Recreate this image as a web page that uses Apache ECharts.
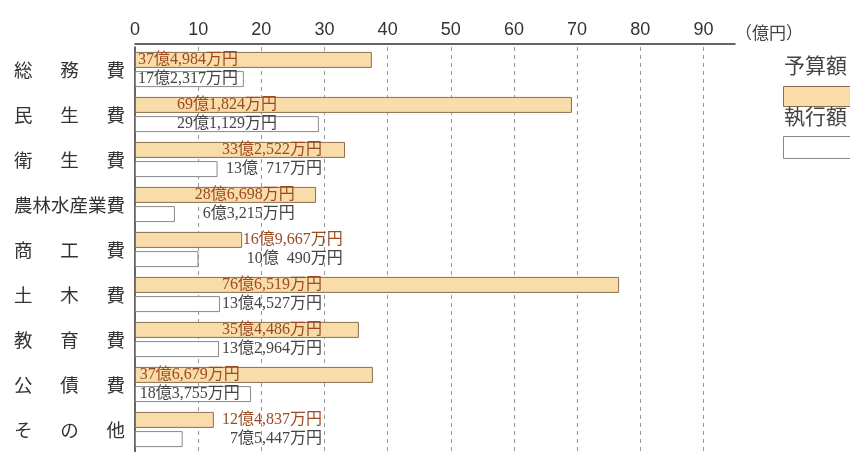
<!DOCTYPE html>
<html>
<head>
<meta charset="utf-8">
<script src="https://cdn.jsdelivr.net/npm/echarts@6/dist/echarts.min.js"></script>
<style>
  html, body { margin: 0; padding: 0; background: #fff; }
  #chart { width: 850px; height: 452px; }
</style>
</head>
<body>
<div id="chart"></div>
<script>
// 費目
const categories = ["総務費", "民生費", "衛生費", "農林水産業費", "商工費", "土木費", "教育費", "公債費", "その他"];
// 予算額（億円）
const budget = [37.4984, 69.1824, 33.2522, 28.6698, 16.9667, 76.6519, 35.4486, 37.6679, 12.4837];
// 執行額（億円）
const executed = [17.2317, 29.1129, 13.0717, 6.3215, 10.049, 13.4527, 13.2964, 18.3755, 7.5447];
// ラベル文字
const budgetText = ["37億4,984万円", "69億1,824万円", "33億2,522万円", "28億6,698万円", "16億9,667万円", "76億6,519万円", "35億4,486万円", "37億6,679万円", "12億4,837万円"];
const executedText = ["17億2,317万円", "29億1,129万円", "13億  717万円", "6億3,215万円", "10億  490万円", "13億4,527万円", "13億2,964万円", "18億3,755万円", "7億5,447万円"];
const xTicks = [0, 10, 20, 30, 40, 50, 60, 70, 80, 90];

// ラベル右端の位置（億円の目盛で）
const labelEnd = [16.3, 22.5, 29.6, 25.3, 32.9, 29.6, 29.6, 16.6, 29.6];

const gridLeft = 135, gridRight = 115;
const axisMax = 95;
const gridWidth = 850 - gridLeft - gridRight;
const pxPer = gridWidth / axisMax;

const serif = "'Liberation Serif', 'Noto Sans CJK JP', serif";
const sans = "'Noto Sans CJK JP', sans-serif";

function makeData(values, texts, color) {
  return values.map((v, i) => ({
    value: v,
    label: {
      show: true,
      position: [labelEnd[i] * pxPer, "50%"],
      align: "right",
      verticalAlign: "middle",
      formatter: texts[i],
      color: color,
      fontFamily: serif,
      fontSize: 16
    }
  }));
}

// 3文字の費目は字間をあける
function spaced(name) {
  if (name.length >= 6) return name;
  return name.split("").join("\u3000\u2002");
}

let myChart = echarts.init(document.getElementById("chart"));
let option = {
  animation: false,
  grid: { left: gridLeft, right: gridRight, top: 47, bottom: 0 },
  xAxis: {
    type: "value",
    position: "top",
    offset: 3,
    min: 0,
    max: axisMax,
    interval: 10,
    name: "（億円）",
    nameLocation: "end",
    nameGap: 0,
    nameTextStyle: {
      fontFamily: sans,
      fontSize: 17,
      color: "#444",
      align: "left",
      verticalAlign: "bottom",
      padding: [0, 0, 3, 0]
    },
    axisLine: { show: true, lineStyle: { color: "#333", width: 1.5 } },
    axisTick: { show: false },
    axisLabel: {
      margin: 5,
      fontFamily: "'Liberation Sans', Arial, sans-serif",
      fontSize: 18,
      color: "#333",
      showMaxLabel: false,
      formatter: v => (xTicks.indexOf(v) >= 0 ? String(v) : "")
    },
    splitLine: {
      show: true,
      lineStyle: {
        type: [4, 4],
        width: 1,
        color: ["transparent", "#999", "#999", "#999", "#999", "#999", "#999", "#999", "#999", "#999", "transparent"]
      }
    }
  },
  yAxis: {
    type: "category",
    inverse: true,
    data: categories,
    axisLine: { show: true, lineStyle: { color: "#333", width: 1.5 } },
    axisTick: { show: false },
    axisLabel: {
      margin: 10,
      fontFamily: sans,
      fontSize: 18.5,
      color: "#333",
      formatter: spaced
    }
  },
  series: [
    {
      name: "予算額",
      type: "bar",
      barWidth: 16,
      barGap: "20%",
      itemStyle: { color: "#f8dcaa", borderColor: "#8b6f50", borderWidth: 1 },
      data: makeData(budget, budgetText, "#9c4a22")
    },
    {
      name: "執行額",
      type: "bar",
      barWidth: 16,
      barGap: "20%",
      itemStyle: { color: "#ffffff", borderColor: "#888", borderWidth: 1 },
      data: makeData(executed, executedText, "#444")
    }
  ],
  graphic: [
    { type: "text", left: 784, top: 55, style: { text: "予算額", font: "21px " + sans, fill: "#444" } },
    { type: "rect", left: 783, top: 86, shape: { width: 80, height: 20 }, style: { fill: "#f8dcaa", stroke: "#8b6f50", lineWidth: 1 } },
    { type: "text", left: 784, top: 106, style: { text: "執行額", font: "21px " + sans, fill: "#444" } },
    { type: "rect", left: 783, top: 136, shape: { width: 80, height: 22 }, style: { fill: "#ffffff", stroke: "#888", lineWidth: 1 } }
  ]
};
myChart.setOption(option, true);
window.addEventListener("resize", () => {
  myChart.resize();
});
</script>
</body>
</html>
